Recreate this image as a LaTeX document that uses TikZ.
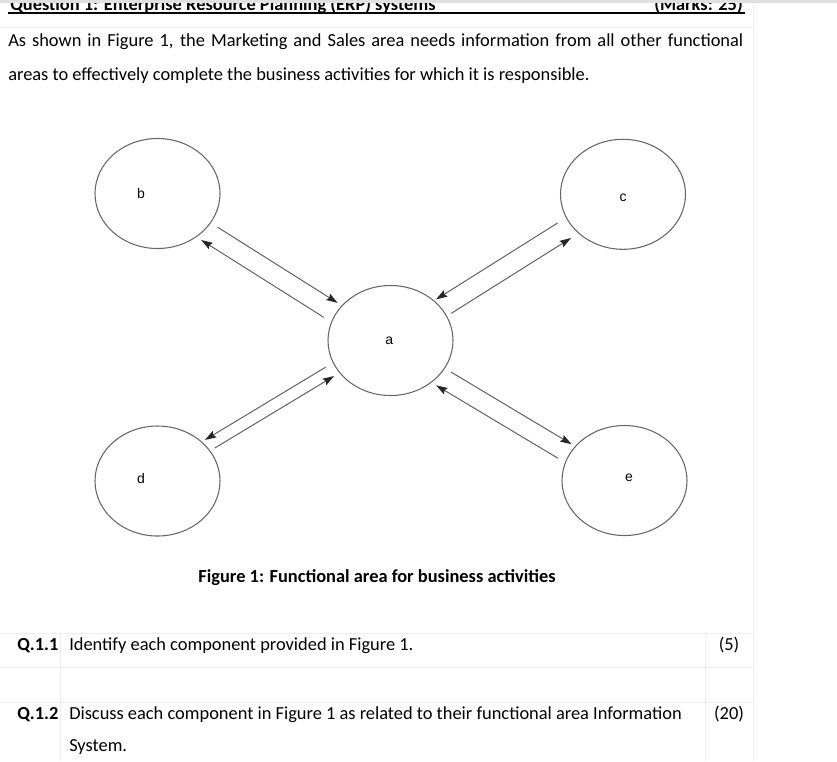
\documentclass[tikz,border=0pt]{standalone}
\usepackage{fontspec}
\setmainfont{Carlito}
\newfontfamily\tagfont{Liberation Sans}
\usetikzlibrary{positioning,shapes.geometric,arrows.meta,calc}

\begin{document}
\begin{tikzpicture}[
  x=0.75pt, y=-0.75pt,
  area/.style={ellipse,draw=black!60,line width=0.8pt,minimum width=93.75pt,minimum height=82.5pt,inner sep=0pt},
  tag/.style={inner sep=0pt,font=\tagfont\fontsize{10.5}{12}\selectfont},
  flow/.style={draw=black!62,line width=0.75pt,-{Stealth[length=8.5pt,width=5.5pt,inset=1.2pt,color=black!85]}},
  rule/.style={draw=black!7,line width=0.75pt},
  txt/.style={anchor=base west,inner sep=0pt,font=\fontsize{13.8}{16}\selectfont},
  qno/.style={txt,font=\bfseries\fontsize{13.8}{16}\selectfont}
]
\clip (0,0) rectangle (837,761);

% faint table lines
\draw[rule] (0,27) -- (753,27);
\draw[rule] (753,0) -- (753,761);
\draw[rule] (0,633) -- (753,633);
\draw[rule] (0,667) -- (753,667);
\draw[rule] (0,702) -- (753,702);
\draw[rule] (60,633) -- (60,761);
\draw[rule] (705,633) -- (705,761);

% heading, cut at the top
\node[qno] (head) at (10,10) {Question 1: Enterprise Resource Planning (ERP) systems};
\node[qno,anchor=base east] (marks) at (743,10) {(Marks: 25)};
\draw[line width=1pt] (8,13) -- (745,13);
\fill[black!12] (0,0) rectangle (837,3);

\node[txt] (para1) at (8,46) {\makebox[551.25pt][s]{As shown in Figure 1, the Marketing and Sales area needs information from all other functional}};
\node[txt] (para2) at (8,80) {areas to effectively complete the business activities for which it is responsible.};

% functional areas
\node[area] (a) at (390.5,340.5) {};
\node[area] (b) at (157.5,193.5) {};
\node[area] (c) at (623,194.3) {};
\node[area] (d) at (157.5,481) {};
\node[area] (e) at (624.5,480.5) {};

\node[tag] (ta) at ([xshift=-1pt]a.center) {a};
\node[tag] (tb) at ([xshift=-12.4pt]b.center) {b};
\node[tag] (tc) at ([yshift=-2.5pt]c.center) {c};
\node[tag] (td) at ([xshift=-12.4pt,yshift=2pt]d.center) {d};
\node[tag] (te) at ([xshift=3.4pt,yshift=2pt]e.center) {e};

% information flows
\draw[flow] ($(b)!0.25!(a)!2.7pt!90:(a)$) -- ($(b)!0.765!(a)!2.7pt!90:(a)$);
\draw[flow] ($(b)!0.75!(a)!-12pt!90:(a)$) -- ($(b)!0.224!(a)!-12pt!90:(a)$);
\draw[flow] ($(c)!0.257!(a)!-7.9pt!90:(a)$) -- ($(c)!0.78!(a)!-7.9pt!90:(a)$);
\draw[flow] ($(c)!0.76!(a)!7pt!90:(a)$) -- ($(c)!0.245!(a)!7pt!90:(a)$);
\draw[flow] ($(d)!0.243!(a)!-1pt!90:(a)$) -- ($(d)!0.755!(a)!-1pt!90:(a)$);
\draw[flow] ($(d)!0.746!(a)!8pt!90:(a)$) -- ($(d)!0.227!(a)!8pt!90:(a)$);
\draw[flow] ($(e)!0.252!(a)!11.3pt!90:(a)$) -- ($(e)!0.772!(a)!11.3pt!90:(a)$);
\draw[flow] ($(e)!0.75!(a)!-3pt!90:(a)$) -- ($(e)!0.235!(a)!-3pt!90:(a)$);

\node[qno,anchor=base] (caption) at (377,582) {Figure 1: Functional area for business activities};

% questions
\node[qno] (q11) at (17,650) {Q.1.1};
\node[txt] (q11txt) at (69,650) {Identify each component provided in Figure 1.};
\node[txt,anchor=base] (q11mark) at (729,650) {(5)};
\node[qno] (q12) at (17,719) {Q.1.2};
\node[txt] (q12txt) at (69,719) {Discuss each component in Figure 1 as related to their functional area Information};
\node[txt,anchor=base] (q12mark) at (729,719) {(20)};
\node[txt] (q12more) at (69,751) {System.};
\end{tikzpicture}
\end{document}
